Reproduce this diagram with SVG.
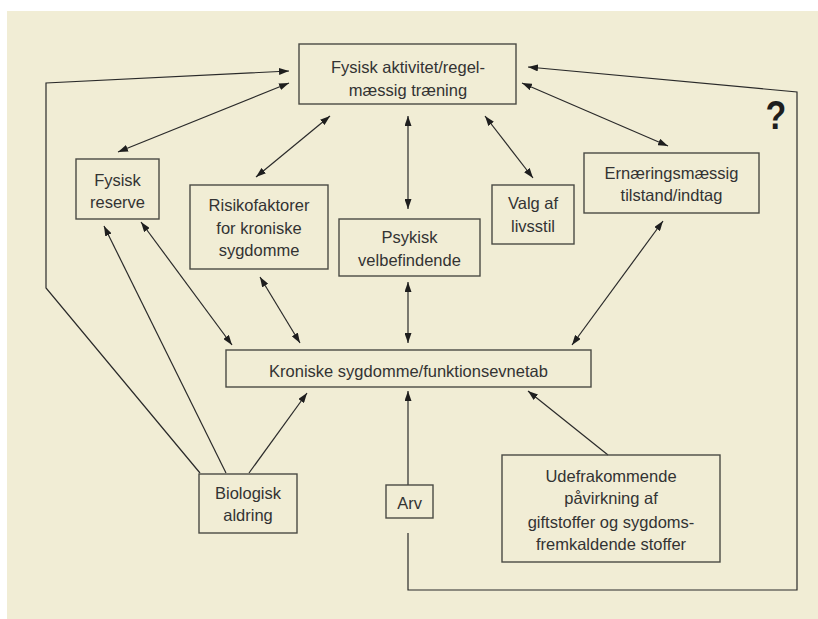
<svg xmlns="http://www.w3.org/2000/svg" width="818" height="619" viewBox="0 0 818 619">
<style>
.box{fill:none;stroke:#4a4a44;stroke-width:1.4}
.t{font-family:"Liberation Sans",Arial,sans-serif;font-size:16.5px;fill:#333;text-anchor:middle}
.c{fill:none;stroke:#2a2a2a;stroke-width:1.2}
.d{marker-start:url(#ah);marker-end:url(#ah)}
.e{marker-end:url(#ah)}
</style>
<defs>
<marker id="ah" viewBox="0 0 10 7" refX="10" refY="3.5" markerWidth="10" markerHeight="7" markerUnits="userSpaceOnUse" orient="auto-start-reverse">
<path d="M0,0 L10,3.5 L0,7 z" fill="#1e1e1e"/>
</marker>
</defs>
<rect x="7" y="11" width="811" height="608" fill="#F1EDD5"/>
<g id="connectors">
<polyline class="c e" points="200,473 46,288 46,83 289,71"/>
<line class="c d" x1="118" y1="152" x2="289" y2="83"/>
<line class="c d" x1="256" y1="177" x2="330" y2="116"/>
<line class="c d" x1="408" y1="209" x2="408" y2="116"/>
<line class="c d" x1="533" y1="178" x2="485" y2="116"/>
<line class="c d" x1="668" y1="146" x2="522" y2="83"/>
<polyline class="c e" points="408,533 408,590 797,590 797,92 528,67"/>
<line class="c d" x1="141" y1="222" x2="232" y2="345"/>
<line class="c d" x1="260" y1="277" x2="300" y2="343"/>
<line class="c d" x1="408" y1="282" x2="408" y2="343"/>
<line class="c d" x1="663" y1="221" x2="572" y2="345"/>
<line class="c e" x1="226" y1="473" x2="104" y2="226"/>
<line class="c e" x1="249" y1="473" x2="307" y2="393"/>
<line class="c e" x1="408" y1="485" x2="408" y2="391"/>
<line class="c e" x1="608" y1="455" x2="528" y2="391"/>
</g>
<g id="fysisk-aktivitet">
<rect class="box" x="299" y="44" width="217" height="60"/>
<text class="t" x="408" y="73">Fysisk aktivitet/regel-</text>
<text class="t" x="408" y="96">mæssig træning</text>
</g>
<g id="fysisk-reserve">
<rect class="box" x="76" y="159" width="83" height="60"/>
<text class="t" x="117.5" y="186">Fysisk</text>
<text class="t" x="117.5" y="208">reserve</text>
</g>
<g id="risikofaktorer">
<rect class="box" x="190" y="185" width="138" height="84"/>
<text class="t" x="259" y="211">Risikofaktorer</text>
<text class="t" x="259" y="234">for kroniske</text>
<text class="t" x="259" y="256">sygdomme</text>
</g>
<g id="psykisk">
<rect class="box" x="339" y="219" width="141" height="57"/>
<text class="t" x="409.5" y="243">Psykisk</text>
<text class="t" x="409.5" y="266">velbefindende</text>
</g>
<g id="valg">
<rect class="box" x="492" y="185" width="82" height="59"/>
<text class="t" x="533" y="209">Valg af</text>
<text class="t" x="533" y="232">livsstil</text>
</g>
<g id="ernaering">
<rect class="box" x="584" y="153" width="175" height="60"/>
<text class="t" x="671.5" y="179">Ernæringsmæssig</text>
<text class="t" x="671.5" y="201">tilstand/indtag</text>
</g>
<g id="kroniske">
<rect class="box" x="226" y="350" width="365" height="37"/>
<text class="t" x="408.5" y="377">Kroniske sygdomme/funktionsevnetab</text>
</g>
<g id="biologisk">
<rect class="box" x="199" y="474" width="98" height="59"/>
<text class="t" x="248" y="499">Biologisk</text>
<text class="t" x="248" y="521">aldring</text>
</g>
<g id="arv">
<rect class="box" x="386" y="485" width="47" height="33"/>
<text class="t" x="409.5" y="509">Arv</text>
</g>
<g id="udefra">
<rect class="box" x="502" y="455" width="218" height="107"/>
<text class="t" x="611" y="482">Udefrakommende</text>
<text class="t" x="611" y="504">påvirkning af</text>
<text class="t" x="611" y="528">giftstoffer og sygdoms-</text>
<text class="t" x="611" y="550">fremkaldende stoffer</text>
</g>
<text x="776" y="129" font-family="'Liberation Sans',Arial,sans-serif" font-size="40" font-weight="bold" fill="#1e1e1e" text-anchor="middle" transform="translate(776 0) scale(0.85 1) translate(-776 0)">?</text>
</svg>
